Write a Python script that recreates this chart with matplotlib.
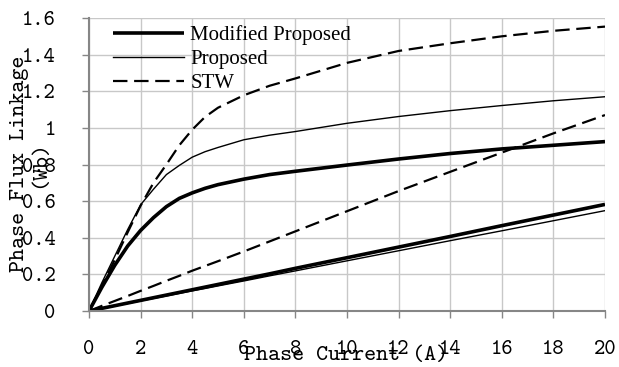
import matplotlib
matplotlib.use("Agg")
import matplotlib.pyplot as plt
from matplotlib import font_manager

# Data
current = [0, 0.5, 1, 1.5, 2, 2.5, 3, 3.5, 4, 4.5, 5, 6, 7, 8, 10, 12, 14, 16, 18, 20]

mod_prop_aligned   = [0, 0.13, 0.25, 0.355, 0.44, 0.51, 0.57, 0.615, 0.645, 0.67, 0.69, 0.72, 0.745, 0.763,
                      0.797, 0.83, 0.86, 0.885, 0.905, 0.925]
mod_prop_unaligned = [0, 0.0145, 0.029, 0.0435, 0.058, 0.0725, 0.087, 0.1015, 0.116, 0.1305, 0.145, 0.174,
                      0.203, 0.233, 0.291, 0.349, 0.407, 0.466, 0.524, 0.582]

prop_aligned   = [0, 0.155, 0.30, 0.445, 0.58, 0.665, 0.745, 0.795, 0.84, 0.87, 0.893, 0.935, 0.96, 0.98,
                  1.025, 1.062, 1.094, 1.122, 1.148, 1.17]
prop_unaligned = [0, 0.0137, 0.0274, 0.041, 0.055, 0.0685, 0.082, 0.096, 0.11, 0.123, 0.137, 0.164,
                  0.192, 0.219, 0.274, 0.329, 0.384, 0.438, 0.493, 0.548]

stw_aligned   = [0, 0.14, 0.28, 0.43, 0.575, 0.70, 0.80, 0.905, 0.99, 1.06, 1.11, 1.178, 1.23, 1.27,
                 1.355, 1.42, 1.462, 1.50, 1.53, 1.553]
stw_unaligned = [0, 0.028, 0.055, 0.082, 0.11, 0.137, 0.165, 0.192, 0.22, 0.246, 0.272, 0.325,
                 0.38, 0.435, 0.545, 0.655, 0.76, 0.865, 0.97, 1.07]

x_ticks = [0, 2, 4, 6, 8, 10, 12, 14, 16, 18, 20]
y_ticks = [0, 0.2, 0.4, 0.6, 0.8, 1.0, 1.2, 1.4, 1.6]
y_tick_labels = ["0", "0.2", "0.4", "0.6", "0.8", "1", "1.2", "1.4", "1.6"]

W, H = 619, 367
fig = plt.figure(figsize=(W / 100, H / 100), dpi=100)
ax = fig.add_axes([89 / W, 1 - 311 / H, (605 - 89) / W, (311 - 18) / H])

names = {f.name for f in font_manager.fontManager.ttflist}
mono = "cmtt10" if "cmtt10" in names else "Liberation Mono"
tick_fs = 15.5 if mono == "cmtt10" else 14
lab_fs = 16.5 if mono == "cmtt10" else 15
serif = "Liberation Serif"

thick = 2.6
thin = 1.0
dlw = 1.6
dash = (6.5, 3.0)

ax.plot(current, mod_prop_aligned, color="black", lw=thick, label="Modified Proposed",
        solid_capstyle="butt", solid_joinstyle="round")
ax.plot(current, mod_prop_unaligned, color="black", lw=thick, solid_capstyle="butt")
ax.plot(current, prop_aligned, color="black", lw=thin, label="Proposed")
ax.plot(current, prop_unaligned, color="black", lw=thin)
ax.plot(current, stw_aligned, color="black", lw=dlw, dashes=dash, label="STW")
ax.plot(current, stw_unaligned, color="black", lw=dlw, dashes=dash)

ax.set_xlim(0, 20)
ax.set_ylim(0, 1.6)
ax.set_xticks(x_ticks)
ax.set_yticks(y_ticks)
ax.set_yticklabels(y_tick_labels)
ax.grid(True, color="#c8c8c8", lw=1.0)
ax.set_axisbelow(True)

for s in ["top", "right"]:
    ax.spines[s].set_visible(False)
for s in ["left", "bottom"]:
    ax.spines[s].set_color("#868686")
    ax.spines[s].set_linewidth(1.5)

ax.tick_params(axis="both", colors="#868686", length=5, width=1.0, labelcolor="black")
ax.tick_params(axis="x", pad=16)
ax.tick_params(axis="y", pad=19)
for lab in ax.get_xticklabels() + ax.get_yticklabels():
    lab.set_fontfamily(mono)
    lab.set_fontsize(tick_fs)

leg = ax.legend(loc="upper left", bbox_to_anchor=((113 - 89 - 4) / (605 - 89), 1.0 - 3 / (311 - 18)),
                frameon=False, prop={"family": serif, "size": 15},
                handlelength=3.4, handletextpad=0.3, labelspacing=0.22, borderaxespad=0.0, borderpad=0.2)

fig.text(346 / W, 1 - 356 / H, "Phase Current (A)", ha="center", va="center",
         family=mono, fontsize=lab_fs)
fig.text(29.5 / W, 1 - 164 / H, "Phase Flux Linkage\n(Wb)", ha="center", va="center",
         rotation=90, family=mono, fontsize=lab_fs, linespacing=1.1)

fig.savefig("out.png", dpi=100)
